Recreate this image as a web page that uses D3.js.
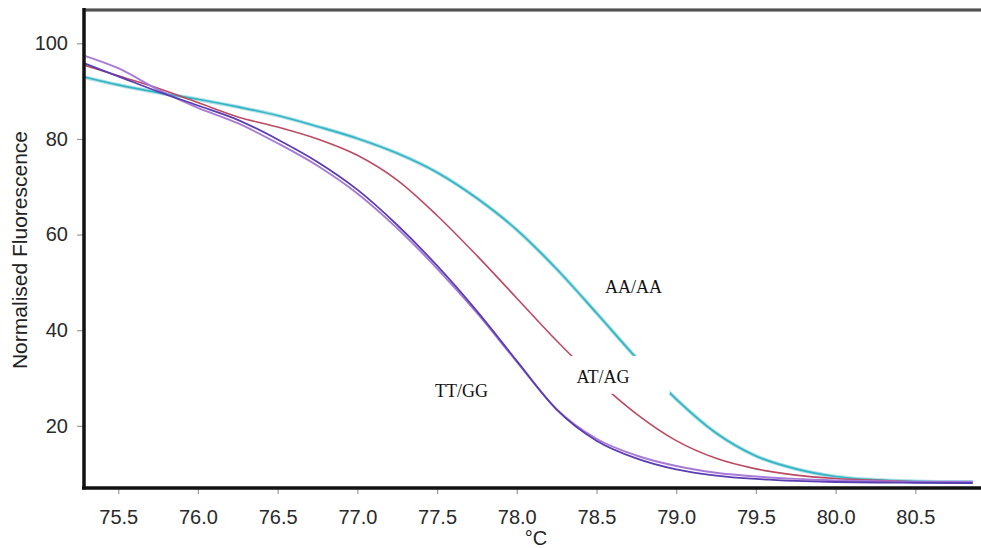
<!doctype html>
<html lang="en">
<head>
	<meta charset="UTF-8">
	<title>Normalised melt curves</title>
	<style>
		body {
			margin: 0;
			background: #fff;
		}
		svg {
			display: block;
		}
		.tick text {
			font-family: "Liberation Sans", Arial, sans-serif;
			font-size: 20px;
			fill: #2a2a2a;
		}
		.tick line {
			stroke: #9a9a9a;
			stroke-width: 1.2;
		}
		.axis-title {
			font-family: "Liberation Sans", Arial, sans-serif;
			font-size: 21px;
			fill: #222;
		}
		.curve-label {
			font-family: "Liberation Serif", "Times New Roman", serif;
			font-size: 18px;
			fill: #111;
		}
	</style>
</head>
<body>
	<script src="https://cdn.jsdelivr.net/npm/d3@7/dist/d3.min.js"></script>
	<script>
		// temperatures (°C) shared by all curves
		var temps = [75.28, 75.5, 75.75, 76.0, 76.25, 76.5, 76.75, 77.0, 77.25, 77.5, 77.75, 78.0,
			78.25, 78.5, 78.75, 79.0, 79.25, 79.5, 79.75, 80.0, 80.25, 80.5, 80.86];

		// normalised fluorescence
		var aaValues = [93.0, 91.3, 89.7, 88.3, 86.7, 84.9, 82.6, 80.1, 77.0, 73.0, 67.6, 61.0,
			52.8, 43.6, 34.2, 25.6, 18.5, 13.7, 11.0, 9.4, 8.7, 8.4, 8.25];
		var atValues = [95.5, 93.2, 90.6, 87.6, 84.6, 82.5, 80.0, 76.6, 71.4, 64.0, 55.6, 46.7,
			37.8, 29.6, 22.5, 16.9, 13.2, 11.0, 9.7, 9.0, 8.6, 8.3, 8.1];
		var ttValues = [95.9, 93.1, 89.9, 87.0, 84.0, 79.9, 75.2, 69.4, 62.0, 53.5, 44.0, 33.6,
			23.4, 16.9, 13.2, 10.9, 9.6, 8.9, 8.5, 8.25, 8.15, 8.1, 8.05];
		var ttValues2 = [97.5, 94.8, 90.3, 86.5, 83.3, 79.1, 74.4, 68.6, 61.3, 52.9, 43.6, 33.4,
			23.5, 17.3, 13.8, 11.6, 10.2, 9.4, 8.9, 8.6, 8.4, 8.3, 8.3];

		var xTicks = [75.5, 76.0, 76.5, 77.0, 77.5, 78.0, 78.5, 79.0, 79.5, 80.0, 80.5];
		var yTicks = [20, 40, 60, 80, 100];

		var labelNames = ['AA/AA', 'AT/AG', 'TT/GG'];
		var labelTemps = [78.553, 78.374, 77.487];
		var labelValues = [47.8, 29.0, 26.05];

		var w = 981,
			h = 548,
			plotLeft = 84,
			plotTop = 10,
			plotBottom = 488;

		var svg = d3.select('body')
			.append('svg')
			.attr('width', w)
			.attr('height', h);

		var xScale = d3.scaleLinear()
			.domain([75.279, 80.912])
			.range([83, 981]);

		var yScale = d3.scaleLinear()
			.domain([7.0, 106.97])
			.range([plotBottom, plotTop]);

		/**
		* build point list for one curve
		* @param {array} values Fluorescence values matching temps
		* @returns {array}
		*/
		var toPoints = function(values) {
			return temps.map(function(t, i) {
				return [t, values[i]];
			});
		};

		var line = d3.line()
			.x(function(d) { return xScale(d[0]); })
			.y(function(d) { return yScale(d[1]); })
			.curve(d3.curveMonotoneX);

		var curves = [
			{ values: aaValues, color: '#ade0e6', width: 3.8 },
			{ values: aaValues, color: '#34b4c4', width: 1.7 },
			{ values: atValues, color: '#bd4a63', width: 1.6 },
			{ values: ttValues2, color: '#a77ad6', width: 1.9 },
			{ values: ttValues, color: '#5a3db3', width: 1.8 }
		];

		svg.append('g')
			.selectAll('path')
			.data(curves)
			.enter()
			.append('path')
			.attr('d', function(d) { return line(toPoints(d.values)); })
			.attr('fill', 'none')
			.attr('stroke', function(d) { return d.color; })
			.attr('stroke-width', function(d) { return d.width; });

		// white box behind the AT/AG label breaks the two curves there
		var gapBox = { t0: 78.33, t1: 78.96, f0: 34.6, f1: 26.7 };
		svg.append('rect')
			.attr('x', xScale(gapBox.t0))
			.attr('y', yScale(gapBox.f0))
			.attr('width', xScale(gapBox.t1) - xScale(gapBox.t0))
			.attr('height', yScale(gapBox.f1) - yScale(gapBox.f0))
			.attr('fill', '#fff');

		// axes
		var xAxis = d3.axisBottom(xScale)
			.tickValues(xTicks)
			.tickFormat(d3.format('.1f'))
			.tickSize(6)
			.tickSizeOuter(0)
			.tickPadding(16);

		var yAxis = d3.axisLeft(yScale)
			.tickValues(yTicks)
			.tickSize(6)
			.tickSizeOuter(0)
			.tickPadding(9);

		var gx = svg.append('g')
			.attr('transform', 'translate(0,' + plotBottom + ')')
			.call(xAxis);
		gx.select('.domain').remove();

		var gy = svg.append('g')
			.attr('transform', 'translate(' + (plotLeft - 1) + ',0)')
			.call(yAxis);
		gy.select('.domain').remove();

		// frame
		svg.append('line')
			.attr('x1', plotLeft)
			.attr('x2', w)
			.attr('y1', plotTop)
			.attr('y2', plotTop)
			.attr('stroke', '#9a9a9a')
			.attr('stroke-width', 4);
		svg.append('line')
			.attr('x1', plotLeft)
			.attr('x2', w)
			.attr('y1', plotTop)
			.attr('y2', plotTop)
			.attr('stroke', '#3a3a3a')
			.attr('stroke-width', 1.5);
		svg.append('line')
			.attr('x1', plotLeft)
			.attr('x2', plotLeft)
			.attr('y1', plotTop - 2)
			.attr('y2', plotBottom + 1.5)
			.attr('stroke', '#111')
			.attr('stroke-width', 3.5);
		svg.append('line')
			.attr('x1', plotLeft - 2)
			.attr('x2', w)
			.attr('y1', plotBottom)
			.attr('y2', plotBottom)
			.attr('stroke', '#111')
			.attr('stroke-width', 3.5);

		// curve labels
		svg.append('g')
			.selectAll('text')
			.data(labelNames)
			.enter()
			.append('text')
			.attr('class', 'curve-label')
			.attr('x', function(d, i) { return xScale(labelTemps[i]); })
			.attr('y', function(d, i) { return yScale(labelValues[i]); })
			.text(function(d) { return d; });

		// axis titles
		svg.append('text')
			.attr('class', 'axis-title')
			.attr('transform', 'translate(27,250) rotate(-90)')
			.attr('text-anchor', 'middle')
			.text('Normalised Fluorescence');

		svg.append('text')
			.attr('class', 'axis-title')
			.attr('x', 536)
			.attr('y', 545)
			.attr('text-anchor', 'middle')
			.style('font-size', '20px')
			.text('°C');
	</script>
</body>
</html>
